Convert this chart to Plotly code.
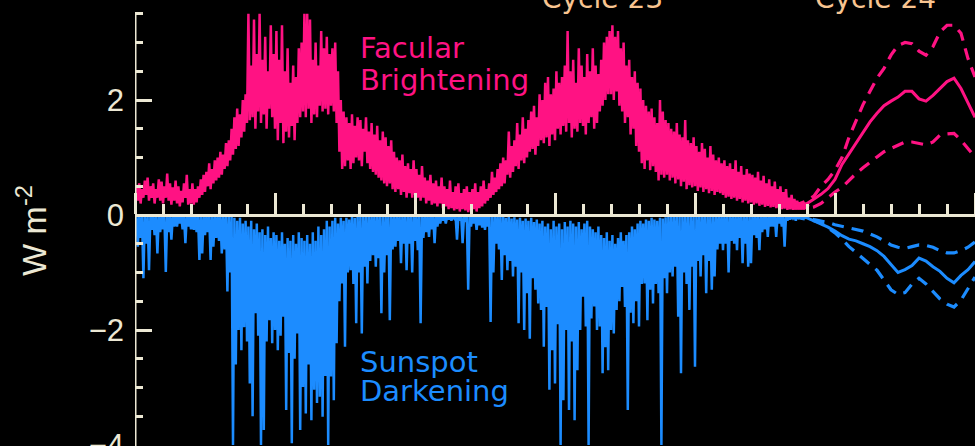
import numpy as np
import plotly.graph_objects as go

# Daily-resolution record sampled every 0.1 yr from 1985.0 to 2009.0
START_YEAR = 1985.0
STEP = 0.1

# Facular brightening: upper and lower envelope (W m^-2)
facular_hi = [
    0.50, 0.55, 0.45, 0.60, 0.65, 0.50, 0.55, 0.45, 0.62, 0.58,
    0.50, 0.72, 0.55, 0.48, 0.60, 0.50, 0.42, 0.55, 0.70, 0.45,
    0.55, 0.45, 0.50, 0.62, 0.70, 0.75, 0.90, 0.80, 0.95, 1.00,
    1.10, 1.05, 1.25, 1.30, 1.50, 1.70, 1.85, 1.75, 2.00, 2.10,
    3.50, 2.60, 3.40, 2.80, 3.50, 2.70, 3.10, 2.50, 3.30, 2.80,
    3.20, 2.70, 3.30, 2.50, 2.90, 2.30, 2.60, 2.40, 2.90, 3.00,
    3.50, 3.50, 3.40, 2.70, 3.00, 2.60, 3.20, 2.90, 3.10, 2.80,
    2.90, 3.00, 2.50, 2.00, 1.80, 1.70, 1.60, 1.75, 1.55, 1.70,
    1.65, 1.50, 1.70, 1.45, 1.60, 1.40, 1.55, 1.30, 1.45, 1.35,
    1.20, 1.30, 1.10, 1.00, 0.95, 1.05, 0.85, 0.90, 0.80, 0.95,
    0.80, 0.70, 0.85, 0.65, 0.60, 0.70, 0.55, 0.60, 0.50, 0.65,
    0.50, 0.45, 0.60, 0.40, 0.50, 0.55, 0.38, 0.45, 0.50, 0.40,
    0.45, 0.55, 0.40, 0.50, 0.60, 0.45, 0.55, 0.75, 0.65, 0.80,
    0.90, 1.00, 0.95, 1.45, 1.20, 1.30, 1.60, 1.40, 1.70, 1.50,
    1.65, 1.80, 1.90, 1.70, 2.10, 2.00, 2.30, 2.40, 2.10, 2.20,
    2.50, 2.30, 2.40, 2.60, 3.20, 2.50, 2.70, 2.30, 2.90, 2.60,
    2.40, 2.80, 2.50, 2.90, 2.60, 2.45, 2.70, 3.00, 3.10, 3.20,
    3.30, 3.10, 3.20, 2.90, 3.00, 2.60, 2.70, 2.40, 2.50, 2.30,
    2.20, 2.00, 1.90, 1.80, 1.85, 1.70, 1.60, 2.00, 1.80, 1.65,
    1.60, 1.50, 1.45, 1.60, 1.40, 1.35, 1.65, 1.30, 1.25, 1.35,
    1.20, 1.10, 1.25, 1.15, 1.00, 1.20, 1.05, 0.95, 1.00, 0.90,
    0.95, 0.85, 0.90, 0.80, 0.95, 0.75, 0.85, 0.70, 0.80, 0.72,
    0.70, 0.65, 0.75, 0.60, 0.68, 0.55, 0.62, 0.50, 0.58, 0.45,
    0.50, 0.40, 0.45, 0.30, 0.35, 0.28, 0.25, 0.22, 0.20, 0.20,
    0.18,
]
facular_lo = [
    0.20, 0.25, 0.20, 0.30, 0.35, 0.25, 0.30, 0.20, 0.30, 0.25,
    0.20, 0.30, 0.25, 0.18, 0.25, 0.20, 0.15, 0.22, 0.30, 0.18,
    0.20, 0.18, 0.22, 0.30, 0.35, 0.40, 0.50, 0.45, 0.55, 0.60,
    0.65, 0.70, 0.80, 0.85, 0.95, 1.05, 1.15, 1.20, 1.35, 1.45,
    1.60, 1.65, 1.70, 1.50, 1.80, 1.60, 1.75, 1.50, 1.85, 1.70,
    1.50, 1.30, 1.60, 1.25, 1.45, 1.35, 1.55, 1.30, 1.60, 1.70,
    1.80, 1.70, 1.85, 1.60, 1.75, 1.70, 1.90, 1.80, 1.85, 1.75,
    1.90, 1.80, 1.60, 1.10, 0.80, 0.85, 0.95, 0.80, 0.90, 1.00,
    0.95, 0.85, 1.10, 0.90, 0.80, 0.75, 0.70, 0.65, 0.60, 0.55,
    0.50, 0.55, 0.45, 0.40, 0.45, 0.35, 0.40, 0.30, 0.38, 0.30,
    0.35, 0.30, 0.25, 0.30, 0.20, 0.25, 0.18, 0.20, 0.15, 0.20,
    0.12, 0.15, 0.10, 0.12, 0.08, 0.10, 0.06, 0.10, 0.08, 0.05,
    0.08, 0.10, 0.06, 0.12, 0.15, 0.20, 0.25, 0.30, 0.35, 0.40,
    0.45, 0.50, 0.55, 0.70, 0.65, 0.75, 0.85, 0.80, 0.95, 0.90,
    1.00, 1.10, 1.15, 1.05, 1.20, 1.30, 1.25, 1.35, 1.20, 1.40,
    1.30, 1.50, 1.40, 1.55, 1.45, 1.60, 1.35, 1.50, 1.45, 1.60,
    1.55, 1.40, 1.60, 1.70, 1.50, 1.60, 1.80, 1.90, 2.00, 2.10,
    2.10, 2.00, 2.15, 1.90, 1.80, 1.60, 1.70, 1.40, 1.50, 1.20,
    1.10, 0.90, 0.80, 0.95, 0.78, 0.85, 0.75, 0.60, 0.70, 0.65,
    0.70, 0.60, 0.65, 0.55, 0.62, 0.50, 0.58, 0.45, 0.52, 0.48,
    0.50, 0.42, 0.48, 0.40, 0.45, 0.38, 0.42, 0.35, 0.40, 0.38,
    0.35, 0.30, 0.32, 0.28, 0.30, 0.25, 0.28, 0.22, 0.25, 0.20,
    0.22, 0.18, 0.20, 0.16, 0.18, 0.14, 0.16, 0.13, 0.14, 0.12,
    0.12, 0.10, 0.11, 0.09, 0.10, 0.09, 0.10, 0.10, 0.10, 0.10,
    0.10,
]

# Sunspot darkening: envelope nearest zero and deepest excursion (W m^-2)
sunspot_hi = [
    -0.02, -0.02, -0.02, -0.02, -0.02, -0.02, -0.02, -0.02, -0.02, -0.02,
    -0.02, -0.02, -0.02, -0.02, -0.02, -0.02, -0.02, -0.02, -0.02, -0.02,
    -0.02, -0.02, -0.02, -0.02, -0.02, -0.02, -0.02, -0.02, -0.02, -0.02,
    -0.02, -0.02, -0.02, -0.03, -0.02, -0.05, -0.10, -0.05, -0.15, -0.10,
    -0.20, -0.10, -0.25, -0.15, -0.30, -0.25, -0.35, -0.20, -0.40, -0.30,
    -0.35, -0.45, -0.30, -0.50, -0.40, -0.45, -0.35, -0.50, -0.30, -0.40,
    -0.45, -0.35, -0.50, -0.30, -0.45, -0.20, -0.35, -0.25, -0.10, -0.20,
    -0.10, -0.05, -0.15, -0.05, -0.10, -0.05, -0.08, -0.03, -0.05, -0.03,
    -0.02, -0.02, -0.02, -0.02, -0.02, -0.02, -0.02, -0.02, -0.02, -0.02,
    -0.02, -0.02, -0.02, -0.02, -0.02, -0.02, -0.02, -0.02, -0.02, -0.02,
    -0.02, -0.02, -0.02, -0.02, -0.02, -0.02, -0.02, -0.02, -0.02, -0.02,
    -0.02, -0.02, -0.02, -0.02, -0.02, -0.02, -0.02, -0.02, -0.02, -0.02,
    -0.02, -0.02, -0.02, -0.02, -0.02, -0.02, -0.02, -0.02, -0.02, -0.02,
    -0.03, -0.02, -0.05, -0.03, -0.06, -0.04, -0.08, -0.05, -0.10, -0.06,
    -0.10, -0.05, -0.12, -0.08, -0.15, -0.10, -0.20, -0.15, -0.25, -0.10,
    -0.20, -0.15, -0.25, -0.12, -0.20, -0.10, -0.15, -0.20, -0.12, -0.25,
    -0.15, -0.10, -0.20, -0.25, -0.30, -0.20, -0.35, -0.40, -0.30, -0.45,
    -0.35, -0.50, -0.40, -0.30, -0.45, -0.35, -0.30, -0.20, -0.25, -0.15,
    -0.10, -0.15, -0.08, -0.10, -0.05, -0.08, -0.10, -0.05, -0.06, -0.04,
    -0.02, -0.02, -0.02, -0.02, -0.02, -0.02, -0.02, -0.02, -0.02, -0.02,
    -0.02, -0.02, -0.02, -0.02, -0.02, -0.02, -0.02, -0.02, -0.02, -0.02,
    -0.02, -0.02, -0.02, -0.02, -0.02, -0.02, -0.02, -0.02, -0.02, -0.02,
    -0.02, -0.02, -0.02, -0.02, -0.02, -0.02, -0.02, -0.02, -0.02, -0.02,
    -0.02, -0.02, -0.02, -0.02, -0.02, -0.02, -0.02, -0.02, -0.02, -0.02,
    -0.02,
]
sunspot_lo = [
    -0.30, -0.55, -0.40, -1.10, -0.50, -0.96, -0.26, -0.35, -0.67, -0.30,
    -0.25, -0.99, -0.30, -0.43, -0.20, -0.20, -0.15, -0.25, -0.49, -0.20,
    -0.25, -0.26, -0.30, -0.78, -0.67, -0.35, -0.30, -0.78, -0.55, -0.40,
    -0.45, -0.67, -0.60, -1.33, -1.00, -4.00, -2.60, -2.00, -2.35, -1.95,
    -2.20, -2.93, -3.50, -1.71, -2.10, -4.00, -3.74, -2.20, -1.83, -2.23,
    -2.00, -2.35, -2.10, -1.77, -3.39, -2.40, -3.97, -2.50, -2.06, -3.74,
    -2.99, -3.45, -2.60, -3.57, -3.04, -3.27, -3.16, -3.51, -2.80, -4.00,
    -2.81, -3.22, -2.23, -1.50, -1.19, -2.29, -1.00, -0.96, -1.20, -1.88,
    -1.00, -2.06, -0.90, -1.19, -0.80, -0.70, -0.90, -0.75, -1.71, -1.00,
    -0.70, -1.83, -0.60, -0.55, -0.45, -0.84, -0.50, -0.96, -0.50, -1.00,
    -0.45, -0.61, -1.88, -0.40, -0.30, -0.38, -0.25, -0.49, -0.20, -0.15,
    -0.10, -0.15, -0.08, -0.10, -0.06, -0.43, -0.10, -0.49, -0.12, -1.30,
    -0.20, -0.15, -0.26, -0.18, -0.22, -0.26, -0.20, -1.86, -1.00, -0.50,
    -0.60, -1.13, -0.70, -0.96, -0.80, -1.07, -0.90, -1.88, -1.00, -2.00,
    -1.36, -2.15, -1.10, -1.30, -1.54, -1.65, -2.29, -1.60, -3.04, -2.35,
    -2.93, -1.90, -4.00, -3.22, -2.00, -3.39, -2.20, -3.57, -2.70, -2.00,
    -1.42, -1.94, -4.00, -1.80, -1.59, -2.00, -1.94, -2.75, -2.30, -2.70,
    -2.00, -2.06, -1.65, -1.50, -1.25, -1.60, -3.39, -1.70, -1.88, -1.50,
    -1.94, -1.20, -1.19, -1.83, -1.30, -1.54, -1.20, -1.36, -4.00, -1.10,
    -1.36, -1.00, -1.07, -0.90, -1.77, -2.75, -1.00, -1.20, -1.65, -0.90,
    -2.64, -0.80, -1.07, -0.70, -1.36, -0.80, -1.30, -1.07, -0.60, -0.50,
    -0.61, -0.50, -1.00, -0.45, -0.50, -0.61, -0.40, -0.84, -0.50, -0.90,
    -0.84, -0.35, -0.40, -0.61, -0.30, -0.25, -0.38, -0.20, -0.20, -0.38,
    -0.15, -0.20, -0.55, -0.10, -0.08, -0.06, -0.10, -0.05, -0.05, -0.04,
    -0.04,
]

# Cycle 24 projections: central estimate with upper/lower bounds
proj_years = [
    2008.5, 2008.75, 2009.0, 2009.25, 2009.5, 2009.75, 2010.0, 2010.25, 2010.5,
    2010.75, 2011.0, 2011.25, 2011.5, 2011.75, 2012.0, 2012.25, 2012.5, 2012.75,
    2013.0, 2013.25, 2013.5, 2013.75, 2014.0, 2014.25, 2014.5, 2014.75, 2015.0,
]
facular_proj = [
    0.15, 0.17, 0.20, 0.28, 0.36, 0.46, 0.62, 0.88, 1.07, 1.25, 1.45, 1.62, 1.77,
    1.90, 1.98, 2.05, 2.15, 2.15, 2.02, 1.98, 2.08, 2.20, 2.32, 2.38, 2.20, 1.95, 1.70,
]
facular_proj_hi = [
    0.18, 0.20, 0.25, 0.33, 0.50, 0.62, 0.78, 1.00, 1.35, 1.65, 1.92, 2.15, 2.38,
    2.55, 2.78, 2.95, 3.00, 2.98, 2.85, 2.78, 2.93, 3.18, 3.30, 3.30, 3.16, 2.72, 2.40,
]
facular_proj_lo = [
    0.12, 0.12, 0.12, 0.14, 0.20, 0.30, 0.40, 0.48, 0.60, 0.72, 0.82, 0.92, 1.01,
    1.10, 1.16, 1.22, 1.27, 1.27, 1.25, 1.22, 1.27, 1.39, 1.41, 1.42, 1.30, 1.15, 1.01,
]
sunspot_proj = [
    -0.02, -0.03, -0.05, -0.10, -0.15, -0.21, -0.28, -0.36, -0.42, -0.45, -0.50,
    -0.55, -0.62, -0.72, -0.86, -1.00, -0.95, -0.88, -0.75, -0.80, -0.90, -0.98,
    -1.10, -1.18, -1.05, -0.95, -0.81,
]
sunspot_proj_hi = [
    -0.02, -0.03, -0.05, -0.08, -0.10, -0.13, -0.17, -0.20, -0.23, -0.25, -0.28,
    -0.33, -0.38, -0.45, -0.52, -0.56, -0.58, -0.55, -0.52, -0.53, -0.56, -0.62,
    -0.66, -0.66, -0.62, -0.56, -0.47,
]
sunspot_proj_lo = [
    -0.03, -0.05, -0.07, -0.10, -0.14, -0.22, -0.31, -0.42, -0.55, -0.65, -0.76,
    -0.86, -0.96, -1.12, -1.30, -1.38, -1.35, -1.20, -1.10, -1.20, -1.33, -1.46,
    -1.55, -1.60, -1.48, -1.28, -1.08,
]

# Labels
y_ticks = [-4, -2, 0, 2]
cycle_labels = [("Cycle 23", 2001.68), ("Cycle 24", 2011.46)]

PINK = "#FF1283"
BLUE = "#1C8CFF"
AXIS = "#ECE8D4"
ORANGE = "#F8C490"

X_RANGE = [1985.0, 2015.0]
Y_RANGE = [-4.017, 3.739]
Y_AXIS_TOP = 3.5


def envelope_trace(lo, hi, color):
    """Zig-zag between the two envelopes so the dense record reads as a band."""
    t = START_YEAR + STEP * np.arange(len(lo))
    xs = np.empty(2 * len(t))
    ys = np.empty(2 * len(t))
    xs[0::2] = t
    xs[1::2] = t + STEP / 2
    ys[0::2] = lo
    ys[1::2] = hi
    return go.Scatter(x=xs, y=ys, mode="lines", line=dict(color=color, width=2.5),
                      hoverinfo="skip")


fig = go.Figure()
fig.add_trace(envelope_trace(sunspot_lo, sunspot_hi, BLUE))
fig.add_trace(envelope_trace(facular_lo, facular_hi, PINK))

dash = "12px,8px"
for ys, color, style, w in [
    (sunspot_proj_hi, BLUE, dash, 3.2),
    (sunspot_proj_lo, BLUE, dash, 3.2),
    (sunspot_proj, BLUE, "solid", 3),
    (facular_proj_hi, PINK, dash, 3.2),
    (facular_proj_lo, PINK, dash, 3.2),
    (facular_proj, PINK, "solid", 3),
]:
    fig.add_trace(go.Scatter(x=proj_years, y=ys, mode="lines",
                             line=dict(color=color, width=w, dash=style),
                             hoverinfo="skip"))

zero_pos = (0 - Y_RANGE[0]) / (Y_RANGE[1] - Y_RANGE[0])

fig.update_layout(
    width=975, height=446,
    margin=dict(l=135, r=0, t=0, b=0, autoexpand=False),
    paper_bgcolor="black", plot_bgcolor="black",
    showlegend=False,
    xaxis=dict(
        range=X_RANGE, showgrid=False, zeroline=False, automargin=False,
        side="top", anchor="free", position=zero_pos,
        showline=True, linecolor=AXIS, linewidth=3,
        ticks="outside", ticklen=21, tickwidth=3, tickcolor=AXIS,
        tick0=1985, dtick=5, showticklabels=False,
        minor=dict(dtick=1, ticks="outside", ticklen=10, tickwidth=3, tickcolor=AXIS),
    ),
    yaxis=dict(
        range=Y_RANGE, showgrid=False, zeroline=False, showline=False,
        automargin=False,
        ticks="inside", ticklen=17, tickwidth=3, tickcolor=AXIS,
        tickvals=y_ticks, ticklabelstandoff=10, ticklabeloverflow="allow",
        tickfont=dict(family="Liberation Sans", size=31, color=AXIS),
        minor=dict(dtick=0.5, tick0=0, ticks="inside", ticklen=8, tickwidth=3,
                   tickcolor=AXIS),
    ),
    shapes=[dict(type="line", xref="x", yref="y", x0=X_RANGE[0], x1=X_RANGE[0],
                 y0=Y_RANGE[0] - 0.2, y1=Y_AXIS_TOP,
                 line=dict(color=AXIS, width=3), layer="above")],
)

label_font = dict(family="DejaVu Sans", size=29)
texts = [
    ("Facular", 2.90, PINK),
    ("Brightening", 2.35, PINK),
    ("Sunspot", -2.56, BLUE),
    ("Darkening", -3.06, BLUE),
]
for txt, yv, col in texts:
    fig.add_annotation(x=1993.0, y=yv, xref="x", yref="y", text=txt,
                       showarrow=False, xanchor="left", yanchor="middle",
                       borderpad=0, font=dict(color=col, **label_font))

for txt, xv in cycle_labels:
    fig.add_annotation(x=xv, y=1.004, xref="x", yref="paper", text=txt,
                       showarrow=False, xanchor="center", yanchor="middle",
                       font=dict(family="DejaVu Sans", size=28, color=ORANGE))

fig.add_annotation(x=-0.152, y=0.484, xref="paper", yref="paper",
                   text="W m<sup>-2</sup>", textangle=-90, showarrow=False,
                   font=dict(family="Liberation Sans", size=34, color=AXIS))

fig.write_html("out.html")
